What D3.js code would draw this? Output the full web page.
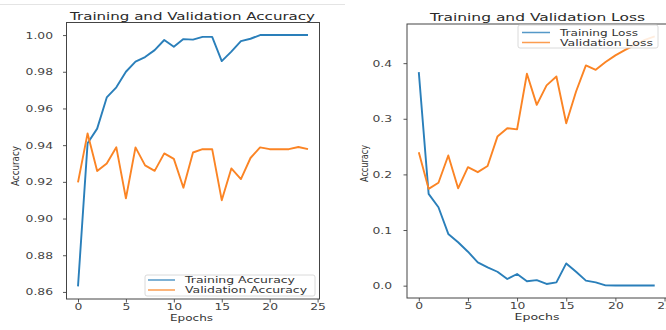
<!DOCTYPE html>
<html><head><meta charset="utf-8">
<script src="https://cdn.jsdelivr.net/npm/d3@7/dist/d3.min.js"></script>
<style>
body{margin:0;background:#fff}
svg{display:block}
text{font-family:"DejaVu Sans",sans-serif}
</style>
</head><body>
<svg id="c" width="666" height="330"></svg>
<script>
const epochs = [0,1,2,3,4,5,6,7,8,9,10,11,12,13,14,15,16,17,18,19,20,21,22,23,24];
const trainAcc = [0.863,0.941,0.949,0.966,0.9715,0.980,0.9855,0.988,0.9918,0.9973,0.9936,0.9978,0.9975,0.999,0.999,0.9858,0.991,0.9967,0.998,1.0,1.0,1.0,1.0,1.0,1.0];
const valAcc = [0.9197,0.9464,0.9259,0.930,0.9388,0.911,0.9388,0.929,0.926,0.9355,0.9325,0.9168,0.936,0.9378,0.9378,0.910,0.9273,0.9215,0.933,0.9388,0.9378,0.9378,0.9378,0.939,0.9378];
const trainLoss = [0.384,0.165,0.141,0.093,0.078,0.061,0.042,0.033,0.025,0.012,0.021,0.008,0.010,0.003,0.006,0.040,0.025,0.009,0.006,0.0005,0.0004,0.0003,0.0003,0.0002,0.0002];
const valLoss = [0.240,0.174,0.185,0.234,0.175,0.213,0.204,0.215,0.268,0.283,0.281,0.381,0.325,0.360,0.376,0.292,0.349,0.396,0.388,0.402,0.414,0.424,0.433,0.442,0.448];
const accTicks = [0.86,0.88,0.90,0.92,0.94,0.96,0.98,1.00];
const lossTicks = [0.0,0.1,0.2,0.3,0.4];
const epochTicks = [0,5,10,15,20,25];
const accLegend = ["Training Accuracy","Validation Accuracy"];
const lossLegend = ["Training Loss","Validation Loss"];

const svg = d3.select("#c");
const BLUE = "#2a7fba", ORANGE = "#fb8424";
const SX = 1.3;

svg.append("line").attr("x1",0).attr("x2",345).attr("y1",4.5).attr("y2",4.5)
  .attr("stroke","#e4e4e4").attr("stroke-width",1);

function margin5(arrs){
  const all = arrs.flat();
  const mn = d3.min(all), mx = d3.max(all), m = (mx-mn)*0.05;
  return [mn-m, mx+m];
}

function panel(cfg){
  const x = d3.scaleLinear().domain([-1.2,25.2]).range([cfg.l, cfg.r]);
  const y = d3.scaleLinear().domain(margin5([cfg.s1, cfg.s2])).range([cfg.b, cfg.t]);
  const g = svg.append("g");

  const lineGen = d3.line().x((d,i)=>x(epochs[i])).y(d=>y(d));
  g.append("path").datum(cfg.s1).attr("d",lineGen).attr("fill","none")
    .attr("stroke",BLUE).attr("stroke-width",1.9).attr("stroke-linejoin","round");
  g.append("path").datum(cfg.s2).attr("d",lineGen).attr("fill","none")
    .attr("stroke",ORANGE).attr("stroke-width",1.9).attr("stroke-linejoin","round");

  const xa = g.append("g").attr("transform",`translate(0,${cfg.b})`)
    .call(d3.axisBottom(x).tickValues(epochTicks).tickSize(3.5).tickPadding(0.5).tickFormat(d3.format("d")));
  const ya = g.append("g").attr("transform",`translate(${cfg.l},0)`)
    .call(d3.axisLeft(y).tickValues(cfg.yticks).tickSize(3.5).tickFormat(d3.format(cfg.fmt)));
  [xa,ya].forEach(a=>{
    a.select(".domain").remove();
    a.selectAll(".tick line").attr("stroke","#444").attr("stroke-width",0.9);
    a.selectAll(".tick text").attr("fill","#444").style("font-size","9.5px")
      .style("font-family",'"DejaVu Sans",sans-serif');
  });
  xa.selectAll(".tick text").attr("transform",`scale(${SX},1)`);
  ya.selectAll(".tick text").attr("x",-cfg.ypad/SX).attr("transform",`scale(${SX},1)`);

  g.append("rect").attr("x",cfg.l).attr("y",cfg.t).attr("width",cfg.r-cfg.l).attr("height",cfg.b-cfg.t)
    .attr("fill","none").attr("stroke","#444").attr("stroke-width",1);

  g.append("text").attr("x",cfg.tx).attr("y",cfg.ty).attr("text-anchor","middle")
    .attr("textLength",cfg.tl).attr("lengthAdjust","spacingAndGlyphs")
    .style("font-size","10.5px").attr("fill","#2a2a2a").text(cfg.title);
  g.append("text").attr("x",cfg.ex).attr("y",cfg.ey).attr("text-anchor","middle")
    .attr("textLength",cfg.el).attr("lengthAdjust","spacingAndGlyphs")
    .style("font-size","9.5px").attr("fill","#333").text("Epochs");
  g.append("text").attr("transform",`translate(${cfg.yx},${cfg.yy}) rotate(-90)`)
    .attr("text-anchor","middle").attr("dy","0.35em")
    .attr("textLength",cfg.yl).attr("lengthAdjust","spacingAndGlyphs")
    .style("font-size","11px").attr("fill","#333").text("Accuracy");

  const L = cfg.leg;
  g.append("rect").attr("x",L.x).attr("y",L.y).attr("width",L.w).attr("height",L.h)
    .attr("rx",2).attr("fill","#fff").attr("fill-opacity",0.85).attr("stroke","#d0d0d0").attr("stroke-width",0.8);
  [BLUE,ORANGE].forEach((c,i)=>{
    const ly = L.ly[i];
    g.append("line").attr("x1",L.lx1).attr("x2",L.lx2).attr("y1",ly).attr("y2",ly)
      .attr("stroke",c).attr("stroke-width",1.5).attr("stroke-opacity",0.8);
    g.append("text").attr("x",L.tx).attr("y",ly).attr("dy","0.35em")
      .attr("textLength",L.tl[i]).attr("lengthAdjust","spacingAndGlyphs")
      .style("font-size","9.5px").attr("fill","#333").text(L.labels[i]);
  });
}

panel({l:66.5,r:319.5,t:22.5,b:299,s1:trainAcc,s2:valAcc,yticks:accTicks,fmt:".2f",ypad:13.5,
  title:"Training and Validation Accuracy",tx:192.5,ty:19.5,tl:245,
  ex:191.5,ey:320.5,el:43, yx:15.5,yy:166,yl:40,
  leg:{x:145,y:275,w:170,h:21,ly:[280,290],lx1:148,lx2:175,tx:185,tl:[110,122],labels:accLegend}});

panel({l:407,r:666.5,t:24,b:298,s1:trainLoss,s2:valLoss,yticks:lossTicks,fmt:".1f",ypad:15,
  title:"Training and Validation Loss",tx:537.5,ty:20.5,tl:215,
  ex:537,ey:320,el:45, yx:364,yy:163.5,yl:37,
  leg:{x:518,y:25,w:140,h:23,ly:[32.5,42.5],lx1:522,lx2:550,tx:560,tl:[78,93],labels:lossLegend}});
</script>
</body></html>
